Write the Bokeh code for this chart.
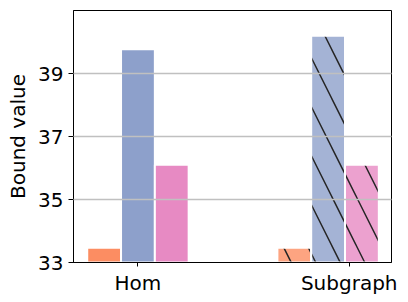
from bokeh.plotting import figure
from bokeh.models import ColumnDataSource, FixedTicker, Range1d
from bokeh.embed import file_html
from bokeh.resources import INLINE

groups = ["Hom", "Subgraph"]
tick_pos = [0.0, 1.0]
group_centers = [0.0, 0.9]
series_a = [33.47, 33.47]   # orange
series_b = [39.77, 40.2]    # blue
series_c = [36.1, 36.1]     # pink
y_ticks = [33, 35, 37, 39]

colors = ["#fc8d62", "#8da0cb", "#e78ac3"]
bar_w = 0.16
offsets = [-bar_w, 0.0, bar_w]

p = figure(width=408, height=302, output_backend="svg", toolbar_location=None,
           x_range=Range1d(-0.305, 1.2), y_range=Range1d(33, 41),
           min_border_left=73, min_border_right=17, min_border_top=10, min_border_bottom=40)
p.background_fill_color = "white"
p.border_fill_color = "white"
p.outline_line_color = "black"
p.outline_line_width = 1

for si, vals in enumerate([series_a, series_b, series_c]):
    for gi, g in enumerate(groups):
        src = ColumnDataSource(dict(x=[group_centers[gi] + offsets[si]], top=[vals[gi]]))
        if gi == 0:
            p.vbar(x="x", top="top", bottom=0, width=bar_w, source=src,
                   fill_color=colors[si], fill_alpha=1.0, line_color="white", line_width=2)
        else:
            p.vbar(x="x", top="top", bottom=0, width=bar_w, source=src,
                   fill_color=colors[si], fill_alpha=0.8, line_color="white", line_width=2,
                   hatch_pattern="\\", hatch_color="#262626", hatch_weight=1.5, hatch_scale=49)

font = "DejaVu Sans"
fs = "20px"

p.xgrid.visible = False
p.ygrid.grid_line_color = "#c0c0c0"
p.ygrid.grid_line_width = 1.5
p.ygrid.level = "annotation"

p.yaxis.ticker = FixedTicker(ticks=y_ticks)
p.yaxis.minor_tick_line_color = None
p.yaxis.major_tick_in = 0
p.yaxis.major_tick_out = 5
p.yaxis.major_label_text_font = font
p.yaxis.major_label_text_font_size = fs
p.yaxis.major_label_text_color = "black"
p.yaxis.major_label_standoff = 5
p.yaxis.axis_label = "Bound value"
p.yaxis.axis_label_text_font = font
p.yaxis.axis_label_text_font_size = fs
p.yaxis.axis_label_text_font_style = "normal"
p.yaxis.axis_label_text_color = "black"
p.yaxis.axis_label_standoff = 5
p.yaxis.axis_line_color = "black"
p.yaxis.major_tick_line_color = "black"

p.xaxis.ticker = FixedTicker(ticks=tick_pos)
p.xaxis.major_label_overrides = {tick_pos[i]: groups[i] for i in range(len(groups))}
p.xaxis.minor_tick_line_color = None
p.xaxis.major_tick_in = 0
p.xaxis.major_tick_out = 4
p.xaxis.major_label_text_font = font
p.xaxis.major_label_text_font_size = fs
p.xaxis.major_label_text_color = "black"
p.xaxis.major_label_standoff = 4
p.xaxis.axis_line_color = "black"
p.xaxis.major_tick_line_color = "black"

open("out.html", "w").write(file_html(p, INLINE))
